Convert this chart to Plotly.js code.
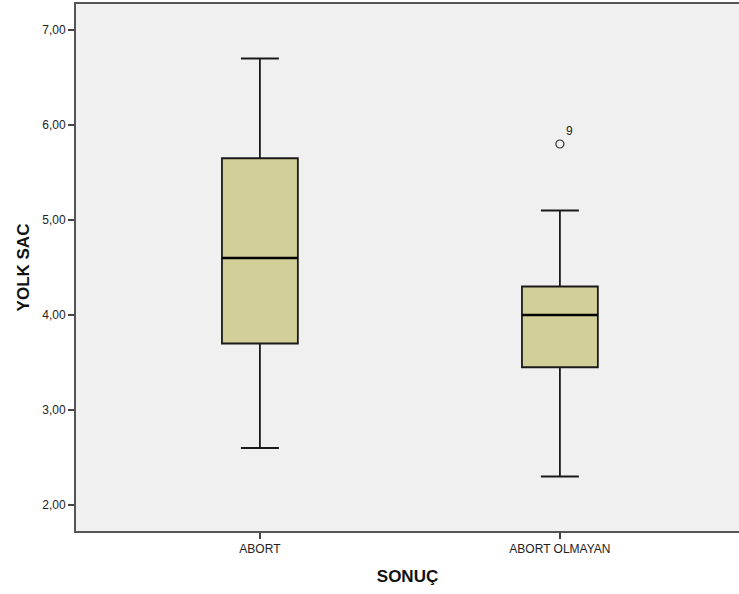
<!DOCTYPE html>
<html>
<head>
<meta charset="utf-8">
<script src="https://cdn.plot.ly/plotly-3.0.1.min.js"></script>
<style>body{margin:0;padding:0;background:#fff;}#chart{width:739px;height:594px;}</style>
</head>
<body>
<div id="chart"></div>
<script>
const categories = ["ABORT", "ABORT OLMAYAN"];
const lowerWhisker = [2.6, 2.3];
const q1 = [3.7, 3.45];
const medians = [4.6, 4.0];
const q3 = [5.65, 4.3];
const upperWhisker = [6.7, 5.1];
const outlierCategory = ["ABORT OLMAYAN"];
const outlierValues = [5.8];
const outlierLabels = ["9"];

const boxWidth = 0.253;

const traces = [{
  type: "box",
  x: categories,
  q1: q1,
  median: medians,
  q3: q3,
  lowerfence: lowerWhisker,
  upperfence: upperWhisker,
  width: boxWidth,
  whiskerwidth: 0.5,
  fillcolor: "#d3cf98",
  line: {color: "#1a1a1a", width: 1.8},
  boxpoints: false,
  hoverinfo: "skip",
  showlegend: false
}, {
  type: "scatter",
  mode: "markers+text",
  x: outlierCategory,
  y: outlierValues,
  text: outlierLabels,
  textposition: "top right",
  textfont: {family: "Liberation Sans, Arial, sans-serif", size: 12, color: "#222"},
  marker: {symbol: "circle-open", size: 8, color: "#333", line: {width: 1.2, color: "#333"}},
  showlegend: false,
  hoverinfo: "skip",
  cliponaxis: false
}];

const shapes = medians.map((m, i) => ({
  type: "line",
  xref: "x", yref: "y",
  x0: i - boxWidth / 2, x1: i + boxWidth / 2,
  y0: m, y1: m,
  line: {color: "#000", width: 2.5}
}));

const layout = {
  width: 739, height: 594,
  margin: {l: 76, r: 0, t: 4, b: 63},
  paper_bgcolor: "#ffffff",
  plot_bgcolor: "#f0f0f0",
  font: {family: "Liberation Sans, Arial, sans-serif", size: 12, color: "#222"},
  separators: ",.",
  showlegend: false,
  shapes: shapes,
  xaxis: {
    type: "category",
    range: [-0.613, 1.597],
    showgrid: false, zeroline: false,
    showline: true, mirror: true, linecolor: "#555", linewidth: 2,
    ticks: "outside", ticklen: 6, tickwidth: 1.5, tickcolor: "#444",
    tickfont: {size: 12, color: "#222"},
    title: {text: "SONUÇ", font: {size: 17, color: "#111", weight: "bold"}, standoff: 15}
  },
  yaxis: {
    range: [1.726, 7.274],
    tickvals: [2, 3, 4, 5, 6, 7],
    tickformat: ".2f",
    showgrid: false, zeroline: false,
    showline: true, linecolor: "#555", linewidth: 2,
    ticks: "outside", ticklen: 6, tickwidth: 1.5, tickcolor: "#444",
    tickfont: {size: 12, color: "#222"},
    title: {text: "YOLK SAC", font: {size: 17, color: "#111", weight: "bold"}, standoff: 8}
  }
};

Plotly.newPlot("chart", traces, layout, {displayModeBar: false, staticPlot: true});
</script>
</body>
</html>
